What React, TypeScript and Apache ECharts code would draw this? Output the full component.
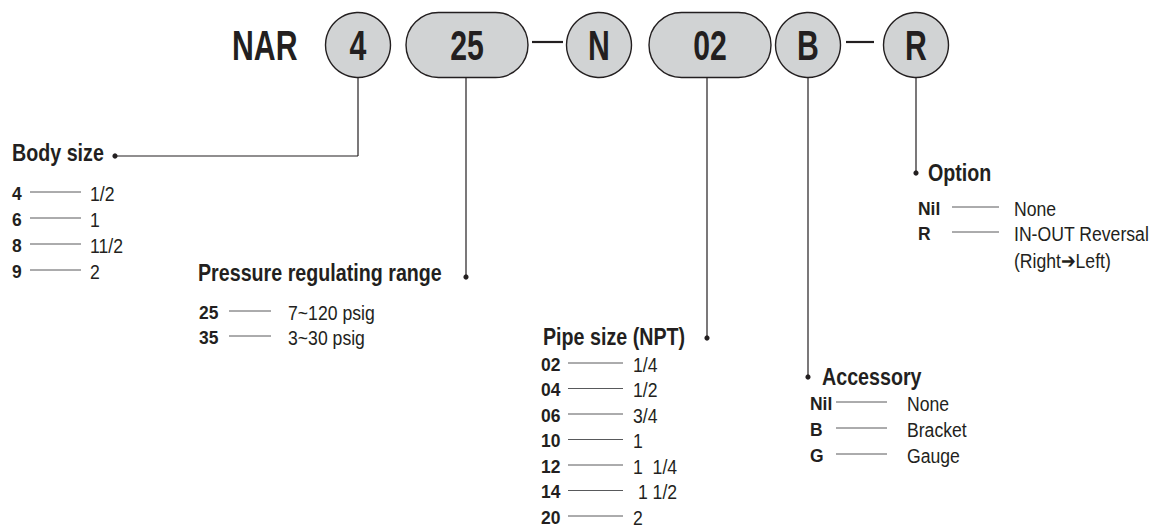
import React, { useEffect, useRef } from "react";
import * as echarts from "echarts";

// ---- data ----
const modelParts = ["NAR", "4", "25", "N", "02", "B", "R"];
const partShapes = ["text", "circle", "pill", "circle", "pill", "circle", "circle"];

const bodyTitle = "Body size";
const bodyCodes = ["4", "6", "8", "9"];
const bodyValues = ["1/2", "1", "11/2", "2"];

const pressureTitle = "Pressure regulating range";
const pressureCodes = ["25", "35"];
const pressureValues = ["7~120 psig", "3~30 psig"];

const pipeTitle = "Pipe size (NPT)";
const pipeCodes = ["02", "04", "06", "10", "12", "14", "20"];
const pipeValues = ["1/4", "1/2", "3/4", "1", "1  1/4", " 1 1/2", "2"];

const accessoryTitle = "Accessory";
const accessoryCodes = ["Nil", "B", "G"];
const accessoryValues = ["None", "Bracket", "Gauge"];

const optionTitle = "Option";
const optionCodes = ["Nil", "R"];
const optionValues = ["None", "IN-OUT Reversal"];
const optionNote = "(Right\u2794Left)";

// ---- style / layout ----
const FONT = "'Liberation Sans', Arial, sans-serif";
const INK = "#231f20";
const FILL = "#d1d3d4";
const RULE = "#58595b";

function txt(
  text: string,
  x: number,
  y: number,
  size: number,
  bold: boolean,
  align = "left",
  sx = 0.82,
  fill = INK
) {
  return {
    type: "text",
    x,
    y,
    scaleX: sx,
    silent: true,
    style: {
      text,
      x: 0,
      y: 0,
      fill,
      font: `${bold ? "bold " : ""}${size}px ${FONT}`,
      align,
      textAlign: align,
      verticalAlign: "middle",
      textVerticalAlign: "middle",
    },
  };
}
function ln(x1: number, y1: number, x2: number, y2: number, w = 1, color = INK) {
  return { type: "line", silent: true, shape: { x1, y1, x2, y2 }, style: { stroke: color, lineWidth: w } };
}
function dot(x: number, y: number) {
  return { type: "circle", silent: true, shape: { cx: x, cy: y, r: 2.6 }, style: { fill: INK } };
}

function buildGraphics() {
  const g: any[] = [];
  const CY = 45;
  const R = 32.5;
  // top model code
  const centers = [0, 358, 467, 599, 710, 808, 916];
  const pillHalf = 61;
  modelParts.forEach((p, i) => {
    const shape = partShapes[i];
    if (shape === "text") {
      g.push(txt(p, 232, CY + 1, 42, true, "left", 0.72));
      return;
    }
    const cx = centers[i];
    if (shape === "circle") {
      g.push({ type: "circle", silent: true, shape: { cx, cy: CY, r: R }, style: { fill: FILL, stroke: INK, lineWidth: 1.4 } });
    } else {
      g.push({
        type: "rect",
        silent: true,
        shape: { x: cx - pillHalf, y: CY - R, width: pillHalf * 2, height: R * 2, r: R },
        style: { fill: FILL, stroke: INK, lineWidth: 1.4 },
      });
    }
    g.push(txt(p, cx, CY + 1, 42, true, "center", 0.72));
  });
  // dashes
  g.push(ln(532, 42, 563, 42, 2.2));
  g.push(ln(846, 42, 874, 42, 2.2));

  // connectors
  const bot = CY + R;
  g.push(ln(358, bot, 358, 156, 1.2));
  g.push(ln(358, 156, 115, 156, 1.2));
  g.push(dot(115, 156));
  g.push(ln(466, bot, 466, 277, 1.2));
  g.push(dot(466, 277));
  g.push(ln(707, bot, 707, 338, 1.2));
  g.push(dot(707, 338));
  g.push(ln(808, bot, 808, 377, 1.2));
  g.push(dot(808, 377));
  g.push(ln(916, bot, 916, 173, 1.2));
  g.push(dot(916, 173));

  const TS = 24;
  const RS = 19;
  const VS = 21;
  function block(
    title: string,
    tx: number,
    ty: number,
    codes: string[],
    values: string[],
    codeX: number,
    lineX1: number,
    lineX2: number,
    valX: number,
    rowY: number,
    step: number
  ) {
    g.push(txt(title, tx, ty, TS, true, "left", 0.82));
    codes.forEach((c, i) => {
      const y = rowY + i * step;
      g.push(txt(c, codeX, y, RS, true, "left", 0.92));
      g.push(ln(lineX1, y - 1, lineX2, y - 1, 1, RULE));
      g.push(txt(values[i], valX, y, VS, false, "left", 0.84));
    });
  }
  block(bodyTitle, 12, 153, bodyCodes, bodyValues, 12, 30, 81, 90, 193, 26);
  block(pressureTitle, 198, 273, pressureCodes, pressureValues, 199, 229, 271, 288, 312, 25);
  block(pipeTitle, 543, 337, pipeCodes, pipeValues, 541, 568, 623, 633, 364, 25.5);
  block(accessoryTitle, 822, 377, accessoryCodes, accessoryValues, 810, 836, 887, 907, 403, 26);
  block(optionTitle, 928, 173, optionCodes, optionValues, 918, 952, 999, 1014, 208, 25);
  g.push(txt(optionNote, 1014, 260, VS, false, "left", 0.84));
  return g;
}

export default function App() {
  const ref = useRef<HTMLDivElement>(null);
  useEffect(() => {
    document.body.style.margin = "0";
    const chart = echarts.init(ref.current!, null, { renderer: "svg" });
    chart.setOption({
      animation: false,
      backgroundColor: "#ffffff",
      graphic: { elements: buildGraphics() },
    });
    return () => chart.dispose();
  }, []);
  return <div ref={ref} style={{ position: "fixed", left: 0, top: 0, width: 1156, height: 529 }} />;
}
